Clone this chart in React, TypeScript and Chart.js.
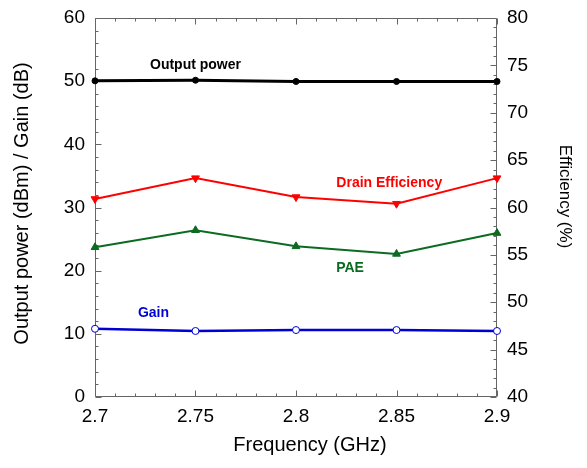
import { useEffect, useRef } from 'react';
import { Chart, registerables } from 'chart.js';

Chart.register(...registerables);

// Measured performance across the band
const frequency = [2.7, 2.75, 2.8, 2.85, 2.9];
const outputPower = [50.05, 50.15, 49.95, 49.95, 49.95]; // dBm
const gain = [10.8, 10.45, 10.6, 10.6, 10.45]; // dB
const drainEfficiency = [60.9, 63.1, 61.1, 60.4, 63.1]; // %
const pae = [55.8, 57.6, 55.9, 55.1, 57.3]; // %

// Axis tick values and labels
const freqTicks = [2.7, 2.75, 2.8, 2.85, 2.9];
const freqTickLabels = ['2.7', '2.75', '2.8', '2.85', '2.9'];
const powerTicks = [0, 10, 20, 30, 40, 50, 60];
const effTicks = [40, 45, 50, 55, 60, 65, 70, 75, 80];

// Axis titles
const xTitle = 'Frequency (GHz)';
const leftTitle = 'Output power (dBm) / Gain (dB)';
const rightTitle = 'Efficiency (%)';

// Series names written next to their curves (data coordinates)
const labelText = ['Output power', 'Drain Efficiency', 'PAE', 'Gain'];
const labelX = [2.75, 2.8464, 2.8269, 2.7291];
const labelY = [52.56, 62.55, 53.58, 13.25];
const labelAxis = ['y', 'y1', 'y1', 'y'];
const labelColor = ['#000000', '#ff0000', '#0b6b22', '#0000d4'];

const FONT = "'Liberation Sans', Arial, Helvetica, sans-serif";
const AXIS_COLOR = '#666666';

const toPoints = (ys: number[]) => ys.map((y, i) => ({ x: frequency[i], y }));

// Box frame with inward major/minor tick marks on all four sides
const frameTicks = {
  id: 'frameTicks',
  beforeDatasetsDraw(chart: any) {
    const { ctx, chartArea: a, scales } = chart;
    const L = Math.round(a.left) + 0.5;
    const R = Math.round(a.right) - 0.5;
    const T = Math.round(a.top) + 0.5;
    const B = Math.round(a.bottom) - 0.5;
    ctx.save();
    ctx.strokeStyle = AXIS_COLOR;
    ctx.lineWidth = 1;
    ctx.beginPath();
    ctx.rect(L, T, R - L, B - T);
    ctx.stroke();
    ctx.beginPath();
    // frequency ticks: minor every 0.01, major every 0.05
    for (let i = 0; i <= 20; i++) {
      const x = Math.round(scales.x.getPixelForValue(2.7 + i * 0.01)) + 0.5;
      const len = i % 5 === 0 ? 6 : 3;
      ctx.moveTo(x, B);
      ctx.lineTo(x, B - len);
      ctx.moveTo(x, T);
      ctx.lineTo(x, T + len);
    }
    // left axis: minor every 2, major every 10
    for (let i = 0; i <= 30; i++) {
      const y = Math.round(scales.y.getPixelForValue(i * 2)) + 0.5;
      const len = i % 5 === 0 ? 6 : 3;
      ctx.moveTo(L, y);
      ctx.lineTo(L + len, y);
    }
    // right axis: minor every 1, major every 5
    for (let i = 0; i <= 40; i++) {
      const y = Math.round(scales.y1.getPixelForValue(40 + i)) + 0.5;
      const len = i % 5 === 0 ? 6 : 3;
      ctx.moveTo(R, y);
      ctx.lineTo(R - len, y);
    }
    ctx.stroke();
    ctx.restore();
  },
};

// Axis titles placed relative to the plot box
const axisTitles = {
  id: 'axisTitles',
  afterDraw(chart: any) {
    const { ctx, chartArea: a } = chart;
    ctx.save();
    ctx.fillStyle = '#000000';
    ctx.textAlign = 'center';
    ctx.textBaseline = 'middle';

    ctx.font = `20px ${FONT}`;
    ctx.fillText(xTitle, (a.left + a.right) / 2 + 14, a.bottom + 48);

    ctx.save();
    ctx.translate(22, (a.top + a.bottom) / 2 - 4);
    ctx.rotate(-Math.PI / 2);
    ctx.fillText(leftTitle, 0, 0);
    ctx.restore();

    ctx.save();
    ctx.font = `17px ${FONT}`;
    ctx.translate(a.right + 68, (a.top + a.bottom) / 2 - 11);
    ctx.rotate(Math.PI / 2);
    ctx.fillText(rightTitle, 0, 0);
    ctx.restore();

    ctx.restore();
  },
};

const seriesNames = {
  id: 'seriesNames',
  afterDatasetsDraw(chart: any) {
    const { ctx, scales } = chart;
    ctx.save();
    ctx.font = `bold 14px ${FONT}`;
    ctx.textAlign = 'center';
    ctx.textBaseline = 'middle';
    labelText.forEach((t, i) => {
      ctx.fillStyle = labelColor[i];
      ctx.fillText(
        t,
        scales.x.getPixelForValue(labelX[i]),
        scales[labelAxis[i]].getPixelForValue(labelY[i])
      );
    });
    ctx.restore();
  },
};

export default function App() {
  const canvasRef = useRef<HTMLCanvasElement | null>(null);

  useEffect(() => {
    const canvas = canvasRef.current;
    if (!canvas) return;
    const tickFont = { family: FONT, size: 19 };
    const chart = new Chart(canvas, {
      type: 'line',
      data: {
        datasets: [
          {
            label: 'Output power',
            data: toPoints(outputPower),
            yAxisID: 'y',
            borderColor: '#000000',
            backgroundColor: '#000000',
            borderWidth: 3,
            pointStyle: 'circle',
            pointRadius: 3,
            pointBorderWidth: 1,
            clip: false,
          },
          {
            label: 'Drain Efficiency',
            data: toPoints(drainEfficiency),
            yAxisID: 'y1',
            borderColor: '#ff0000',
            backgroundColor: '#ff0000',
            borderWidth: 2,
            pointStyle: 'triangle',
            rotation: 180,
            pointRadius: 4.5,
            pointBorderWidth: 1,
            clip: false,
          },
          {
            label: 'PAE',
            data: toPoints(pae),
            yAxisID: 'y1',
            borderColor: '#0b6b22',
            backgroundColor: '#0b6b22',
            borderWidth: 2,
            pointStyle: 'triangle',
            pointRadius: 4.5,
            pointBorderWidth: 1,
            clip: false,
          },
          {
            label: 'Gain',
            data: toPoints(gain),
            yAxisID: 'y',
            borderColor: '#0000d4',
            backgroundColor: '#ffffff',
            borderWidth: 2.5,
            pointStyle: 'circle',
            pointRadius: 3.5,
            pointBorderWidth: 1,
            clip: false,
          },
        ],
      },
      options: {
        responsive: false,
        animation: false,
        layout: { padding: { top: 18, bottom: 0, left: 0, right: 0 } },
        plugins: { legend: { display: false }, tooltip: { enabled: false } },
        scales: {
          x: {
            type: 'linear',
            min: 2.7,
            max: 2.9,
            afterBuildTicks: (s: any) => {
              s.ticks = freqTicks.map((v) => ({ value: v }));
            },
            afterFit: (s: any) => {
              s.height = 71;
              s.paddingLeft = 0;
              s.paddingRight = 0;
            },
            ticks: {
              callback: (_v: any, i: number) => freqTickLabels[i],
              font: tickFont,
              color: '#000000',
              padding: 8,
              maxRotation: 0,
              autoSkip: false,
            },
            grid: { display: false, drawTicks: false },
            border: { display: false },
          },
          y: {
            type: 'linear',
            position: 'left',
            min: 0,
            max: 60,
            afterBuildTicks: (s: any) => {
              s.ticks = powerTicks.map((v) => ({ value: v }));
            },
            afterFit: (s: any) => {
              s.width = 95;
              s.paddingTop = 0;
              s.paddingBottom = 0;
            },
            ticks: { font: tickFont, color: '#000000', padding: 10 },
            grid: { display: false, drawTicks: false },
            border: { display: false },
          },
          y1: {
            type: 'linear',
            position: 'right',
            min: 40,
            max: 80,
            afterBuildTicks: (s: any) => {
              s.ticks = effTicks.map((v) => ({ value: v }));
            },
            afterFit: (s: any) => {
              s.width = 90;
              s.paddingTop = 0;
              s.paddingBottom = 0;
            },
            ticks: { font: tickFont, color: '#000000', padding: 10 },
            grid: { display: false, drawTicks: false },
            border: { display: false },
          },
        },
      },
      plugins: [frameTicks, seriesNames, axisTitles],
    } as any);
    return () => chart.destroy();
  }, []);

  return (
    <div style={{ position: 'absolute', left: 0, top: 0, width: 587, height: 468, background: '#ffffff' }}>
      <canvas ref={canvasRef} width={587} height={468} />
    </div>
  );
}
